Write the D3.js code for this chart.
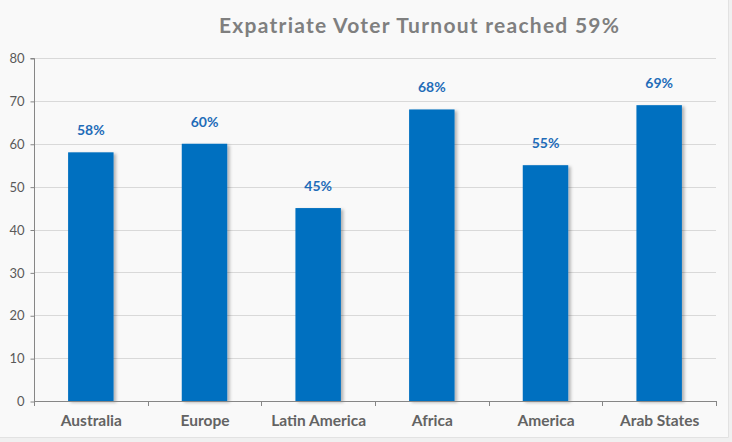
<!DOCTYPE html>
<html><head><meta charset="utf-8">
<script src="https://cdn.jsdelivr.net/npm/d3@7"></script>
<style>
html,body{margin:0;padding:0;background:#f0f0f0;}
svg{display:block;}
</style></head>
<body>
<svg id="c" width="732" height="442"></svg>
<script>
const categories = ["Australia","Europe","Latin America","Africa","America","Arab States"];
const turnout = [58,60,45,68,55,69];
const labels = ["58%","60%","45%","68%","55%","69%"];
const yTicks = [0,10,20,30,40,50,60,70,80];
const title = "Expatriate Voter Turnout reached 59%";

const svg = d3.select("#c");
svg.append("rect").attr("x",0).attr("y",0).attr("width",728).attr("height",437).attr("fill","#f9f9f9");
svg.append("line").attr("x1",728.5).attr("x2",728.5).attr("y1",0).attr("y2",437.5).attr("stroke","#e2e2e2");
svg.append("line").attr("x1",0).attr("x2",728.5).attr("y1",437.5).attr("y2",437.5).attr("stroke","#e2e2e2");

const defs = svg.append("defs");
const f = defs.append("filter").attr("id","sh").attr("x","-20%").attr("y","-10%").attr("width","150%").attr("height","130%");
f.append("feDropShadow").attr("dx",2.5).attr("dy",1.5).attr("stdDeviation",1.8).attr("flood-color","#000").attr("flood-opacity",0.28);

const font = "Lato, 'Open Sans', sans-serif";
const m = {l:34, r:716, t:58, b:401};
const x = d3.scaleBand().domain(categories).range([m.l,m.r]).paddingInner(0.6).paddingOuter(0.3);
const y = d3.scaleLinear().domain([0,80]).range([m.b,m.t]);

// gridlines
svg.append("g").selectAll("line").data(yTicks.filter(d=>d>0)).join("line")
  .attr("x1",m.l).attr("x2",m.r).attr("y1",d=>Math.round(y(d))+0.5).attr("y2",d=>Math.round(y(d))+0.5)
  .attr("stroke","#d9d9d9").attr("stroke-width",1);

// y axis
const ya = svg.append("g").attr("transform",`translate(${m.l+0.5},0.5)`)
  .call(d3.axisLeft(y).tickValues(yTicks).tickSize(4).tickPadding(6).tickFormat(d3.format("d")));
ya.select(".domain").attr("stroke","#868686").attr("d",`M-4,${Math.round(y(80))}H0V${Math.round(y(0))}`);
ya.selectAll(".tick line").attr("stroke","#868686");
ya.selectAll(".tick text").attr("fill","#595959").style("font-family",font).style("font-size","13px");

// bars
svg.append("g").selectAll("rect").data(categories).join("rect")
  .attr("x",d=>x(d)).attr("width",x.bandwidth())
  .attr("y",(d,i)=>y(turnout[i])).attr("height",(d,i)=>y(0)-y(turnout[i]))
  .attr("fill","#0070c0").attr("filter","url(#sh)");

// x axis
const xb = d3.scaleBand().domain(categories).range([m.l,m.r]);
const xa = svg.append("g").attr("transform",`translate(0.5,${Math.round(y(0))+0.5})`)
  .call(d3.axisBottom(xb).tickSize(0).tickPadding(13));
xa.select(".domain").attr("stroke","#868686").attr("d",`M${m.l},0H${m.r}`);
xa.selectAll(".tick text").attr("fill","#636363").style("font-family",font).style("font-size","15.5px").style("font-weight","bold");
// category boundary ticks
const bounds = categories.map(c=>xb(c)).concat([m.r]);
svg.append("g").selectAll("line").data(bounds).join("line")
  .attr("x1",d=>Math.round(d)+0.5).attr("x2",d=>Math.round(d)+0.5)
  .attr("y1",Math.round(y(0))).attr("y2",Math.round(y(0))+5)
  .attr("stroke","#868686");

// value labels
svg.append("g").selectAll("text").data(categories).join("text")
  .attr("x",d=>x(d)+x.bandwidth()/2).attr("y",(d,i)=>y(turnout[i])-17)
  .attr("text-anchor","middle").attr("fill","#1f6cb8")
  .style("font-family",font).style("font-size","14px").style("font-weight","bold")
  .text((d,i)=>labels[i]);

// title
svg.append("text").attr("x",419).attr("y",33).attr("text-anchor","middle")
  .attr("fill","#7f7f7f").style("font-family",font).style("font-size","21px").style("font-weight","bold")
  .attr("textLength",400).attr("lengthAdjust","spacing")
  .text(title);
</script>
</body></html>
